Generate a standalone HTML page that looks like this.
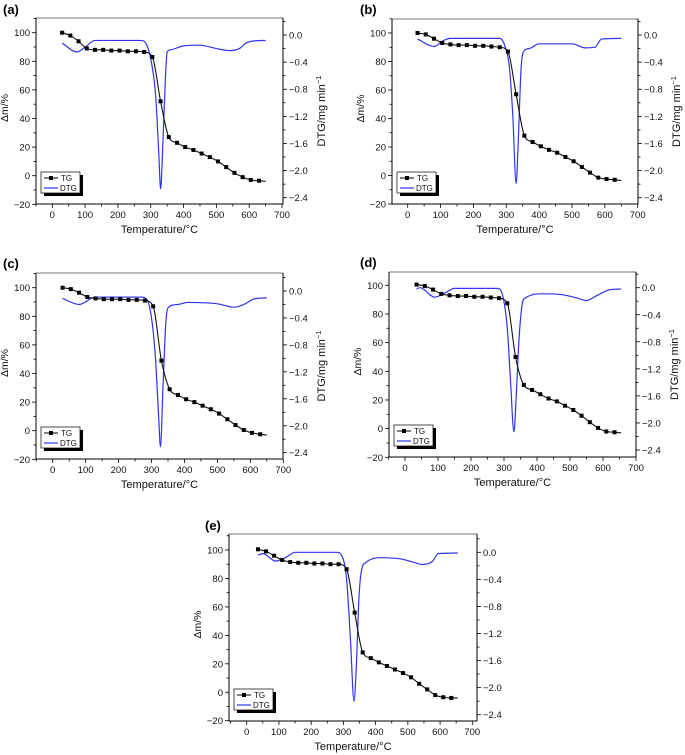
<!DOCTYPE html>
<html><head><meta charset="utf-8"><style>
html,body{margin:0;padding:0;background:#fff;}
svg{display:block;font-family:"Liberation Sans",sans-serif;}
</style></head><body>
<svg id="fig" width="685" height="755" viewBox="0 0 685 755" xmlns="http://www.w3.org/2000/svg"></svg>
<script>
// ---- data (temperature °C, TG %, DTG mg/min) ----
const tgXa=[30,55,80,105,130,155,180,205,230,255,280,305,330,355,380,405,430,455,480,505,530,555,580,605,630,650];
const tgYa=[100,98,94,89,88,88,87.5,87.5,87,87,86.5,83,52,27,23,20,18,15.5,13,10,6,2,-1,-3,-3.5,-4];
const dtgXa=[30,75,100,130,200,270,285,300,315,325,330,337,345,350,360,400,450,500,540,570,590,610,650];
const dtgYa=[-0.12,-0.25,-0.18,-0.08,-0.08,-0.08,-0.12,-0.35,-0.9,-1.8,-2.27,-1.6,-0.6,-0.25,-0.22,-0.16,-0.15,-0.2,-0.23,-0.2,-0.12,-0.09,-0.08];

const tgXb=[30,55,80,105,130,155,180,205,230,255,280,305,330,355,380,405,430,455,480,505,530,555,580,605,630,650];
const tgYb=[100,99,96,93,92,91.5,91.5,91,91,90.5,90,87,57,28,23.5,20.5,18,16,13,10,6,2,-1.5,-2.5,-3,-3.5];
const dtgXb=[30,80,110,130,280,295,310,320,330,337,345,352,370,400,500,540,570,590,650];
const dtgYb=[-0.06,-0.17,-0.08,-0.05,-0.05,-0.15,-0.5,-1.2,-2.19,-1.5,-0.5,-0.25,-0.2,-0.13,-0.13,-0.19,-0.18,-0.06,-0.05];

const tgXc=[30,55,80,105,130,155,180,205,230,255,280,305,330,355,380,405,430,455,480,505,530,555,580,605,630,650];
const tgYc=[100,99,96.5,93.5,92.5,92,92,92,91.5,91.5,91,87,49,29,25,22,20,17.5,15,12,8,4,0.5,-1.5,-2.5,-3];
const dtgXc=[30,80,130,270,285,300,312,322,327,335,343,350,380,410,500,550,580,610,650];
const dtgYc=[-0.11,-0.2,-0.09,-0.09,-0.12,-0.4,-1.0,-1.9,-2.31,-1.4,-0.5,-0.25,-0.2,-0.17,-0.19,-0.24,-0.2,-0.12,-0.1];

const tgXd=[35,60,85,110,135,160,185,210,235,260,285,310,335,360,385,410,435,460,485,510,535,560,585,610,635,655];
const tgYd=[100.5,99.5,97,94,93,92.5,92.5,92,92,91.5,91,87.5,50,30.5,27,24,21,19,16,13,9,4.5,0.5,-2,-2.5,-3];
const dtgXd=[35,45,90,120,150,280,295,310,320,330,337,345,355,365,420,470,520,550,580,620,655];
const dtgYd=[-0.02,0,-0.14,-0.08,-0.01,-0.01,-0.1,-0.6,-1.4,-2.13,-1.6,-0.8,-0.25,-0.15,-0.09,-0.1,-0.15,-0.19,-0.12,-0.03,-0.02];

const tgXe=[35,60,85,110,135,160,185,210,235,260,285,310,335,360,385,410,435,460,485,510,535,560,585,610,635,655];
const tgYe=[100.5,99,96,93,91.5,91,91,90.5,90.5,90,90,86.5,56,28,24,21,18.5,16,13.5,10.5,6,2,-2,-3.5,-4,-4];
const dtgXe=[35,50,90,120,150,280,295,310,322,333,340,348,355,370,420,480,520,545,575,595,655];
const dtgYe=[-0.04,-0.02,-0.13,-0.08,0,0,-0.05,-0.4,-1.3,-2.2,-1.7,-0.7,-0.3,-0.15,-0.08,-0.1,-0.15,-0.18,-0.14,-0.02,-0.01];

const xTicks=[0,100,200,300,400,500,600,700];
const yTicks=[-20,0,20,40,60,80,100];
const rTicks=[0,-0.4,-0.8,-1.2,-1.6,-2.0,-2.4];
const rTickLabels=["0.0","\u22120.4","\u22120.8","\u22121.2","\u22121.6","\u22122.0","\u22122.4"];

const NS="http://www.w3.org/2000/svg";
const svg=document.getElementById('fig');
function mk(tag,attrs,parent){const e=document.createElementNS(NS,tag);for(const k in attrs)e.setAttribute(k,attrs[k]);(parent||svg).appendChild(e);return e;}

function monoPath(px,py){
  const n=px.length;if(n<2)return '';
  const d=[],m=new Array(n);
  for(let i=0;i<n-1;i++)d.push((py[i+1]-py[i])/(px[i+1]-px[i]));
  m[0]=d[0];m[n-1]=d[n-2];
  for(let i=1;i<n-1;i++){m[i]=(d[i-1]*d[i]<=0)?0:(d[i-1]+d[i])/2;}
  for(let i=0;i<n-1;i++){if(d[i]===0){m[i]=0;m[i+1]=0;continue;}
    const a=m[i]/d[i],b=m[i+1]/d[i],s=a*a+b*b;if(s>9){const t=3/Math.sqrt(s);m[i]=t*a*d[i];m[i+1]=t*b*d[i];}}
  let p='M'+px[0].toFixed(2)+','+py[0].toFixed(2);
  for(let i=0;i<n-1;i++){const h=px[i+1]-px[i];
    p+=' C'+(px[i]+h/3).toFixed(2)+','+(py[i]+m[i]*h/3).toFixed(2)+' '+(px[i+1]-h/3).toFixed(2)+','+(py[i+1]-m[i+1]*h/3).toFixed(2)+' '+px[i+1].toFixed(2)+','+py[i+1].toFixed(2);}
  return p;
}

function panel(P){
  const g=mk('g',{});
  
  
  const X=v=>P.x0+(P.x700-P.x0)*v/700;
  const Y=v=>P.y100+(P.ym20-P.y100)*(100-v)/120;
  const R=v=>P.r0+(P.r24-P.r0)*(-v)/2.4;
  const lbl=mk('text',{x:P.lx,y:P.ly,'font-size':13,'font-weight':'bold',fill:'#000'},g);lbl.textContent='('+P.id+')';
  
  const fr=mk('rect',{x:P.L,y:P.T,width:P.R-P.L,height:P.B-P.T,fill:'none',stroke:'#555','stroke-width':0.8},g);
  
  mk('line',{x1:P.L,y1:P.T,x2:P.L,y2:P.B,stroke:'#000','stroke-width':1},g);
  mk('line',{x1:P.R,y1:P.T,x2:P.R,y2:P.B,stroke:'#000','stroke-width':1},g);
  mk('line',{x1:P.L,y1:P.B,x2:P.R,y2:P.B,stroke:'#000','stroke-width':1},g);
  // x ticks
  for(let v=-50;v<=700;v+=50){const x=X(v);if(x<P.L-0.5||x>P.R+0.5)continue;const maj=v%100===0;
    mk('line',{x1:x,y1:P.B,x2:x,y2:P.B+(maj?4:2.5),stroke:'#000','stroke-width':0.8},g);}
  xTicks.forEach(v=>{const t=mk('text',{x:X(v),y:P.B+14,'font-size':9.5,'text-anchor':'middle',fill:'#111'},g);t.textContent=v;
    });
  // left y ticks
  for(let v=-20;v<=110;v+=10){const y=Y(v);if(y<P.T-0.5)continue;const maj=v%20===0;
    mk('line',{x1:P.L,y1:y,x2:P.L-(maj?4:2.5),y2:y,stroke:'#000','stroke-width':0.8},g);}
  yTicks.forEach(v=>{const t=mk('text',{x:P.L-6,y:Y(v)+3.5,'font-size':9.5,'text-anchor':'end',fill:'#111'},g);t.textContent=(v<0?'\u2212'+(-v):v);
    });
  // right ticks
  for(let k=-13;k<=1;k++){const v=k*0.2;const y=R(v);if(y<P.T-0.5||y>P.B+0.5)continue;const maj=k%2===0;
    mk('line',{x1:P.R,y1:y,x2:P.R+(maj?4:2.5),y2:y,stroke:'#000','stroke-width':0.8},g);}
  rTicks.forEach((v,i)=>{const t=mk('text',{x:P.R+6,y:R(v)+3.5,'font-size':9.5,'text-anchor':'start',fill:'#111'},g);t.textContent=rTickLabels[i];
    });
  // axis titles
  const cy=(P.T+P.B)/2;
  const yt=mk('text',{x:0,y:0,'font-size':10.5,'text-anchor':'middle',fill:'#111',transform:'translate('+(P.L-28)+','+(cy-3)+') rotate(-90)'},g);yt.textContent='\u0394m/%';
  
  if(P.rt){const rt=mk('text',{x:0,y:0,'font-size':11,'text-anchor':'middle',fill:'#111',transform:'translate('+P.rt+','+(cy)+') rotate(-90)'},g);
    rt.innerHTML='DTG/mg min<tspan dy="-4" font-size="7.5">\u22121</tspan>';
    }
  const xt=mk('text',{x:(P.L+P.R)/2,y:P.B+29,'font-size':11,'text-anchor':'middle',fill:'#111'},g);xt.textContent='Temperature/\u00b0C';
  
  // DTG
  const dp=mk('path',{d:monoPath(P.dx.map(X),P.dy.map(R)),fill:'none',stroke:'#2b35f0','stroke-width':1.2},g);
  
  // TG
  const tp=mk('path',{d:monoPath(P.tx.map(X),P.ty.map(Y)),fill:'none',stroke:'#111','stroke-width':1.1},g);
  
  for(let i=0;i<P.tx.length-1;i++){
    const m=mk('rect',{x:X(P.tx[i])-2,y:Y(P.ty[i])-2,width:4,height:4,fill:'#000'},g);
    }
  // legend
  const lx=P.L+5,ly=P.B-32;
  const lg=mk('g',{},g);
  
  mk('rect',{x:lx+3,y:ly+3,width:39,height:21,fill:'#000'},lg);
  mk('rect',{x:lx,y:ly,width:39,height:21,fill:'#fff',stroke:'#000','stroke-width':0.7},lg);
  mk('line',{x1:lx+3,y1:ly+6,x2:lx+17,y2:ly+6,stroke:'#000','stroke-width':1},lg);
  mk('rect',{x:lx+8,y:ly+4,width:4,height:4,fill:'#000'},lg);
  const t1=mk('text',{x:lx+20,y:ly+9,'font-size':8,fill:'#111'},lg);t1.textContent='TG';
  
  mk('line',{x1:lx+3,y1:ly+16,x2:lx+17,y2:ly+16,stroke:'#2b35f0','stroke-width':1.2},lg);
  const t2=mk('text',{x:lx+19,y:ly+19,'font-size':8,fill:'#111'},lg);t2.textContent='DTG';
  
}

panel({id:'a',L:36,R:283,T:18,B:204,x0:52.3,x700:282,y100:32.7,ym20:204.3,r0:35,r24:197.7,lx:3,ly:14,rt:325,tx:tgXa,ty:tgYa,dx:dtgXa,dy:dtgYa});
panel({id:'b',L:392,R:638,T:19,B:204,x0:407.7,x700:637.7,y100:33,ym20:204,r0:35,r24:197.7,lx:360,ly:14,rt:680,tx:tgXb,ty:tgYb,dx:dtgXb,dy:dtgYb});
panel({id:'c',L:36,R:283,T:273,B:459,x0:52.7,x700:283.3,y100:287.7,ym20:459.3,r0:291,r24:452.7,lx:3,ly:268,rt:325,tx:tgXc,ty:tgYc,dx:dtgXc,dy:dtgYc});
panel({id:'d',L:389,R:636,T:272,B:457,x0:405,x700:636,y100:285.3,ym20:457.3,r0:287.7,r24:450,lx:360,ly:267,rt:678,tx:tgXd,ty:tgYd,dx:dtgXd,dy:dtgYd});
panel({id:'e',L:229,R:477,T:534,B:721,x0:246.7,x700:472.3,y100:550,ym20:720.7,r0:552.3,r24:714.7,lx:205,ly:530,rt:0,tx:tgXe,ty:tgYe,dx:dtgXe,dy:dtgYe});
</script>
</body></html>
